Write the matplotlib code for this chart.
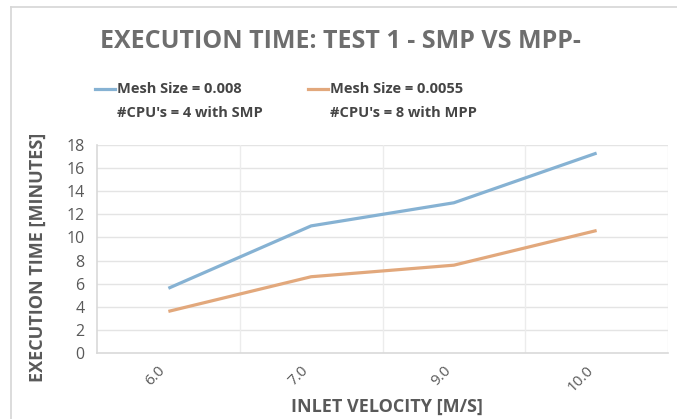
import matplotlib
matplotlib.use("Agg")
import matplotlib.pyplot as plt
from matplotlib.lines import Line2D

plt.rcParams['font.family'] = ['Open Sans', 'DejaVu Sans']

velocities = ["6.0", "7.0", "9.0", "10.0"]
smp_times = [5.6, 11.0, 13.0, 17.3]
mpp_times = [3.6, 6.6, 7.6, 10.6]
series_names = ["Mesh Size = 0.008", "Mesh Size = 0.0055"]
series_notes = ["#CPU's = 4 with SMP", "#CPU's = 8 with MPP"]
y_ticks = list(range(0, 19, 2))

TEXT = "#595959"
GRID = "#e4e4e4"
BLUE = "#86b2d3"
ORANGE = "#e2a87c"
W, H = 677, 419


def fx(px):
    return px / W


def fy(py):
    return 1 - py / H


fig = plt.figure(figsize=(6.77, 4.19), dpi=100)
fig.patch.set_facecolor("white")

# outer chart frame
fig.add_artist(Line2D([fx(11), fx(11)], [0, fy(7)], transform=fig.transFigure,
                      color="#d6d6d6", lw=1.2))
fig.add_artist(Line2D([fx(11), 1], [fy(7), fy(7)], transform=fig.transFigure,
                      color="#d6d6d6", lw=1.2))

ax = fig.add_axes([fx(97), fy(353), fx(668 - 97), (353 - 145) / H])

x = list(range(len(velocities)))
ax.plot(x, smp_times, color=BLUE, lw=2.3, solid_capstyle="butt")
ax.plot(x, mpp_times, color=ORANGE, lw=2.3, solid_capstyle="butt")

ax.set_xlim(-0.5, len(velocities) - 0.5)
ax.set_ylim(0, 18)
ax.set_yticks(y_ticks)
ax.set_xticks(x)
ax.set_xticklabels(velocities, rotation=45, ha="right", va="top")
ax.tick_params(axis="x", length=0, pad=7, labelsize=11, labelcolor=TEXT)
ax.tick_params(axis="y", length=0, pad=9, labelsize=11.5, labelcolor=TEXT)

# horizontal gridlines and category separators
for yv in y_ticks[1:]:
    ax.axhline(yv, color=GRID, lw=1, zorder=0)
for xv in [0.5, 1.5, 2.5, 3.5]:
    ax.axvline(xv, color="#ececec", lw=1, zorder=0)

for side in ["top", "right"]:
    ax.spines[side].set_visible(False)
for side in ["left", "bottom"]:
    ax.spines[side].set_color("#d9d9d9")
    ax.spines[side].set_linewidth(1.2)

ax.set_xlabel("INLET VELOCITY [M/S]", fontsize=13, fontweight="bold", color=TEXT)
ax.set_ylabel("EXECUTION TIME [MINUTES]", fontsize=13, fontweight="bold", color=TEXT)
ax.xaxis.label.set_va("center")
ax.xaxis.set_label_coords(0.507, -(407 - 353) / 208)
ax.yaxis.label.set_va("center")
ax.yaxis.set_label_coords(-(97 - 38) / 571, (353 - 257) / 208)

fig.text(fx(340), fy(42), "EXECUTION TIME: TEST 1 - SMP VS MPP-", ha="center", va="center",
         fontsize=18, fontweight="bold", color="#6e6e6e")

# legend: swatch beside the first line of each two-line entry
legend_x = [95, 308]
for lx, color, name, note in zip(legend_x, [BLUE, ORANGE], series_names, series_notes):
    fig.add_artist(Line2D([fx(lx), fx(lx + 20)], [fy(89), fy(89)], transform=fig.transFigure,
                          color=color, lw=2.3))
    fig.text(fx(lx + 22), fy(89), name, ha="left", va="center", fontsize=10.5,
             fontweight="bold", color="#454545")
    fig.text(fx(lx + 22), fy(113), note, ha="left", va="center", fontsize=10.5,
             fontweight="bold", color="#454545")

fig.savefig("out.png", dpi=100)
